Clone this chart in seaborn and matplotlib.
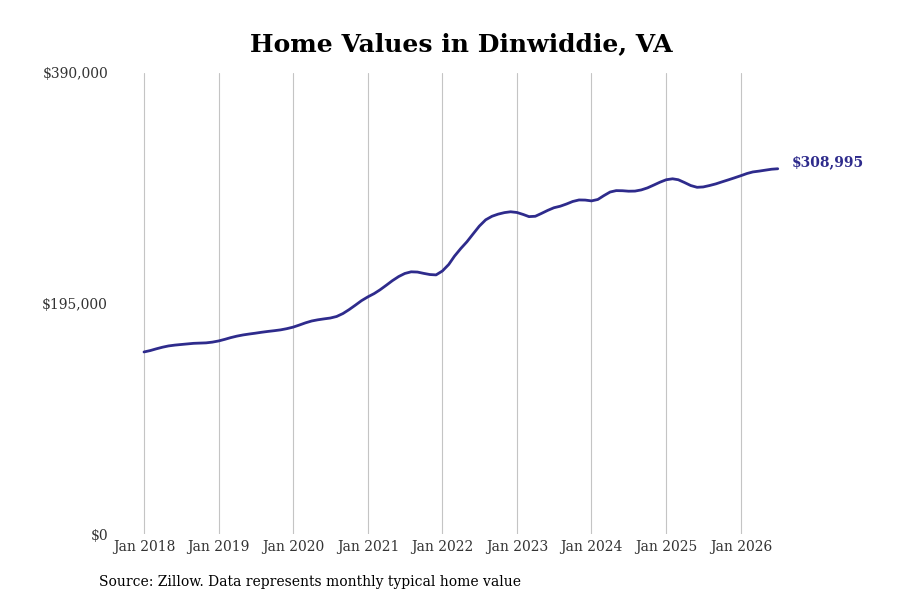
import pandas as pd
import numpy as np
import matplotlib
matplotlib.use('Agg')
import matplotlib.pyplot as plt
import matplotlib.dates as mdates
from matplotlib.ticker import FuncFormatter
import seaborn as sns

# Monthly typical home value, Jan 2018 - Jul 2026
values = [
    154000, 155200, 156600, 158000, 159100, 159800, 160300, 160800, 161300, 161500, 161700, 162300,
    163300, 164700, 166100, 167400, 168400, 169200, 169900, 170700, 171400, 172000, 172700, 173700,
    175000, 176800, 178600, 180200, 181200, 182000, 182700, 184000, 186500, 189800, 193600, 197400,
    200600, 203400, 206500, 210400, 214300, 217800, 220400, 221800, 221600, 220500, 219500, 219200,
    222500, 228000, 235000, 241500, 247200, 254000, 260500, 265800, 268800, 270600, 271900, 272600,
    272000, 270300, 268500, 268800, 271200, 273800, 276000, 277300, 279200, 281300, 282600, 282500,
    281800, 283000, 286200, 289300, 290500, 290400, 290000, 290100, 291100, 292800, 295200, 297600,
    299700, 300500, 299700, 297300, 294800, 293300, 293600, 294800, 296200, 297900, 299600, 301300,
    303100, 305000, 306300, 307000, 307800, 308600, 308995,
]
dates = pd.date_range('2018-01-01', periods=len(values), freq='MS')
tick_years = list(range(2018, 2027))
y_ticks = [0, 195000, 390000]

df = pd.DataFrame({'date': dates, 'value': values})

line_color = '#2e2b8c'

sns.set_style('white')
plt.rcParams['font.family'] = ['DejaVu Serif']

fig = plt.figure(figsize=(9, 6), dpi=100)
ax = fig.add_axes([115 / 900, 66 / 600, (790 - 115) / 900, (534 - 73) / 600])

sns.lineplot(data=df, x='date', y='value', ax=ax, color=line_color, linewidth=2)

ax.set_ylim(0, 390000)
ax.set_xlim(pd.Timestamp('2018-01-01') - pd.Timedelta(days=142),
            pd.Timestamp('2018-01-01') + pd.Timedelta(days=3163))
ax.set_yticks(y_ticks)
ax.yaxis.set_major_formatter(FuncFormatter(lambda v, p: f'${v:,.0f}'))
ax.set_xticks([pd.Timestamp(f'{y}-01-01') for y in tick_years])
ax.xaxis.set_major_formatter(mdates.DateFormatter('Jan %Y'))

ax.grid(axis='x', color='#c4c4c4', linewidth=0.8)
ax.grid(axis='y', visible=False)
sns.despine(ax=ax, left=True, bottom=True)
ax.tick_params(axis='both', length=0, labelsize=10, colors='#333333')
ax.tick_params(axis='x', pad=4)
ax.tick_params(axis='y', pad=5)
ax.set_xlabel('')
ax.set_ylabel('')

# label at the end of the line
ax.annotate(f'${values[-1]:,.0f}', xy=(dates[-1], values[-1]), xytext=(10, 5),
            textcoords='offset points', color=line_color, fontsize=10,
            fontweight='bold', va='center', ha='left')

fig.text(461 / 900, 0.927, 'Home Values in Dinwiddie, VA', ha='center', va='center',
         fontsize=18, fontweight='bold', color='black')
fig.text(99 / 900, 1 - 582 / 600, 'Source: Zillow. Data represents monthly typical home value',
         ha='left', va='center', fontsize=10, color='black')

fig.savefig('out.png', dpi=100)
